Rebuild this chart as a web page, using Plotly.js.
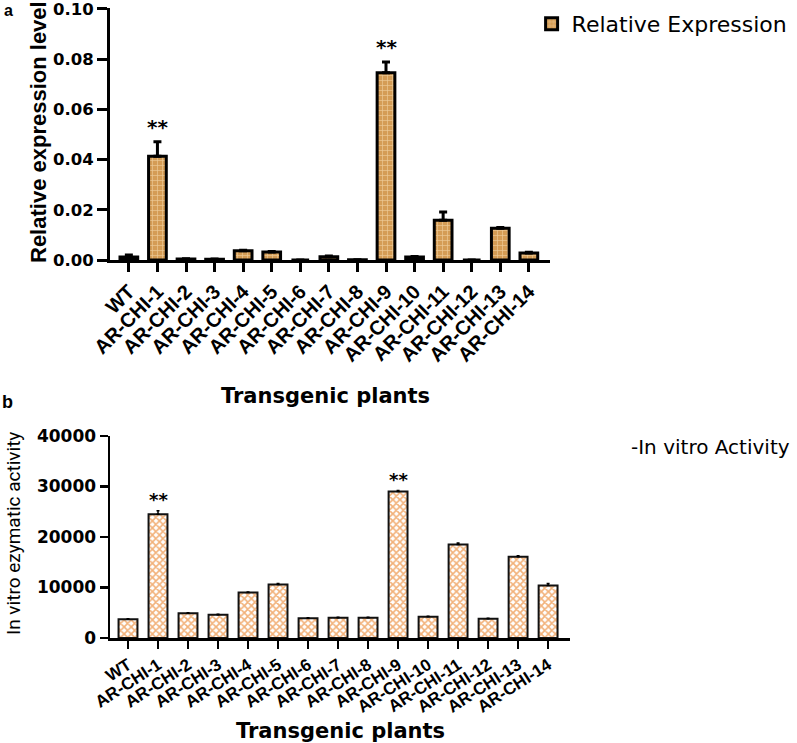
<!DOCTYPE html>
<html>
<head>
<meta charset="utf-8">
<script src="https://cdn.plot.ly/plotly-3.0.1.min.js"></script>
<style>html,body{margin:0;padding:0;background:#fff;}#chart{width:797px;height:743px;}</style>
</head>
<body>
<div id="chart"></div>
<script>
const categories = ['WT','AR-CHI-1','AR-CHI-2','AR-CHI-3','AR-CHI-4','AR-CHI-5','AR-CHI-6','AR-CHI-7','AR-CHI-8','AR-CHI-9','AR-CHI-10','AR-CHI-11','AR-CHI-12','AR-CHI-13','AR-CHI-14'];
const exprValues = [0.0012,0.0413,0.0004,0.0003,0.0037,0.0032,0.0000,0.0013,0.0001,0.0745,0.0012,0.0158,0.0000,0.0126,0.0028];
const exprErrors = [0.0008,0.0058,0.0001,0.0001,0.0002,0.0002,0.0000,0.0003,0.0000,0.0043,0.0002,0.0033,0.0000,0.0003,0.0003];
const exprSig = ['','**','','','','','','','','**','','','','',''];
const activityValues = [3700,24500,4900,4600,9000,10600,3900,4000,4000,29000,4200,18500,3800,16100,10400];
const activityErrors = [100,700,100,100,100,200,100,100,100,200,100,300,100,200,400];
const activitySig = ['','**','','','','','','','','**','','','','',''];
const exprTicks = [0, 0.02, 0.04, 0.06, 0.08, 0.10];
const exprTickText = ['0.00','0.02','0.04','0.06','0.08','0.10'];
const activityTicks = [0, 10000, 20000, 30000, 40000];
const activityTickText = ['0','10000','20000','30000','40000'];

const zeros = categories.map(() => 0);

const traceExpr = {
  type: 'bar', x: categories, y: exprValues, xaxis: 'x', yaxis: 'y',
  name: 'Relative Expression', showlegend: true, width: 0.62,
  marker: {
    color: '#d7a35f',
    line: {color: '#000', width: 3},
    pattern: {shape: '+', fgcolor: '#ecc996', bgcolor: '#d49c55', size: 5, solidity: 0.25}
  },
  error_y: {type: 'data', symmetric: false, array: exprErrors, arrayminus: zeros, color: '#000', thickness: 3, width: 4}
};

const traceAct = {
  type: 'bar', x: categories, y: activityValues, xaxis: 'x2', yaxis: 'y2',
  name: 'In vitro Activity', showlegend: false, width: 0.63,
  marker: {
    color: '#f3b47c',
    line: {color: '#111', width: 2},
    pattern: {shape: 'x', fgcolor: '#f2b179', bgcolor: '#ffffff', size: 5, solidity: 0.55}
  },
  error_y: {type: 'data', symmetric: false, array: activityErrors, arrayminus: zeros, color: '#000', thickness: 1.5, width: 1.5}
};

const annotations = [];
categories.forEach((c, i) => {
  if (exprSig[i]) annotations.push({xref: 'x', yref: 'y', x: c, y: exprValues[i] + exprErrors[i], text: exprSig[i],
    showarrow: false, yanchor: 'bottom', yshift: 1, font: {family: 'DejaVu Sans', size: 20, color: '#000', weight: 'bold'}});
  if (activitySig[i]) annotations.push({xref: 'x2', yref: 'y2', x: c, y: activityValues[i] + activityErrors[i], text: activitySig[i],
    showarrow: false, yanchor: 'bottom', yshift: -1, font: {family: 'DejaVu Sans', size: 18, color: '#000', weight: 'bold'}});
});
annotations.push({xref: 'paper', yref: 'paper', x: 0.003, y: 1.0, xanchor: 'left', yanchor: 'top', text: '<b>a</b>', showarrow: false,
  font: {family: 'Liberation Sans', size: 16, color: '#000'}});
annotations.push({xref: 'paper', yref: 'paper', x: 0.0, y: 1 - 390/743, xanchor: 'left', yanchor: 'top', text: '<b>b</b>', showarrow: false,
  font: {family: 'Liberation Sans', size: 18, color: '#000'}});
annotations.push({xref: 'paper', yref: 'paper', x: 325/797, y: 1 - 396/743, xanchor: 'center', yanchor: 'middle', text: '<b>Transgenic plants</b>', showarrow: false,
  font: {family: 'DejaVu Sans', size: 21, color: '#000'}});
annotations.push({xref: 'paper', yref: 'paper', x: 340/797, y: 1 - 731/743, xanchor: 'center', yanchor: 'middle', text: '<b>Transgenic plants</b>', showarrow: false,
  font: {family: 'DejaVu Sans', size: 21, color: '#000'}});
annotations.push({xref: 'paper', yref: 'paper', x: 629/797, y: 1 - 447/743, xanchor: 'left', yanchor: 'middle', text: '-In vitro Activity', showarrow: false,
  font: {family: 'DejaVu Sans', size: 20, color: '#000'}});
annotations.push({xref: 'paper', yref: 'paper', x: 39/797, y: 1 - 132/743, xanchor: 'center', yanchor: 'middle', textangle: -90,
  text: '<b>Relative expression level</b>', showarrow: false,
  font: {family: 'Liberation Sans', size: 22, color: '#000'}});
annotations.push({xref: 'paper', yref: 'paper', x: 13/797, y: 1 - 534/743, xanchor: 'center', yanchor: 'middle', textangle: -90,
  text: 'In vitro ezymatic activity', showarrow: false,
  font: {family: 'Liberation Sans Narrow, Roboto', size: 19, color: '#000'}});

const layout = {
  width: 797, height: 743,
  margin: {l: 0, r: 0, t: 0, b: 0},
  paper_bgcolor: '#fff', plot_bgcolor: '#fff',
  showlegend: true,
  legend: {x: 0.667, y: 1 - 3/743, xanchor: 'left', yanchor: 'top', bgcolor: 'rgba(0,0,0,0)',
    font: {family: 'DejaVu Sans', size: 22, color: '#000'}},
  xaxis: {domain: [110/797, 550/797], anchor: 'y', type: 'category', range: [-0.66, 14.74],
    showline: true, linecolor: '#000', linewidth: 3, ticks: 'outside', ticklen: 9, tickwidth: 3, tickcolor: '#000',
    tickangle: -45, tickfont: {family: 'Liberation Sans', size: 20, color: '#000', weight: 'bold'}, showgrid: false, zeroline: false},
  yaxis: {domain: [1 - 260/743, 1 - 8/743], anchor: 'x', range: [0, 0.1003], tickvals: exprTicks, ticktext: exprTickText,
    showline: true, linecolor: '#000', linewidth: 3, ticks: 'outside', ticklen: 10, tickwidth: 3, tickcolor: '#000',
    ticklabeloverflow: 'allow',
    tickfont: {family: 'DejaVu Sans', size: 16.5, color: '#000', weight: 'bold'}, showgrid: false, zeroline: false},
  xaxis2: {domain: [110/797, 570/797], anchor: 'y2', type: 'category', range: [-0.6, 14.73],
    showline: true, linecolor: '#000', linewidth: 2.5, ticks: 'outside', ticklen: 8, tickwidth: 2.5, tickcolor: '#000',
    tickangle: -33, tickfont: {family: 'Liberation Sans', size: 17, color: '#000', weight: 'bold'}, showgrid: false, zeroline: false},
  yaxis2: {domain: [1 - 638/743, 1 - 436/743], anchor: 'x2', range: [0, 40000], tickvals: activityTicks, ticktext: activityTickText,
    showline: true, linecolor: '#000', linewidth: 2.5, ticks: 'outside', ticklen: 8, tickwidth: 2.5, tickcolor: '#000',
    tickfont: {family: 'DejaVu Sans', size: 17, color: '#000', weight: 'bold'}, showgrid: false, zeroline: false},
  annotations: annotations
};

Plotly.newPlot('chart', [traceExpr, traceAct], layout, {displayModeBar: false, staticPlot: true});
</script>
</body>
</html>
